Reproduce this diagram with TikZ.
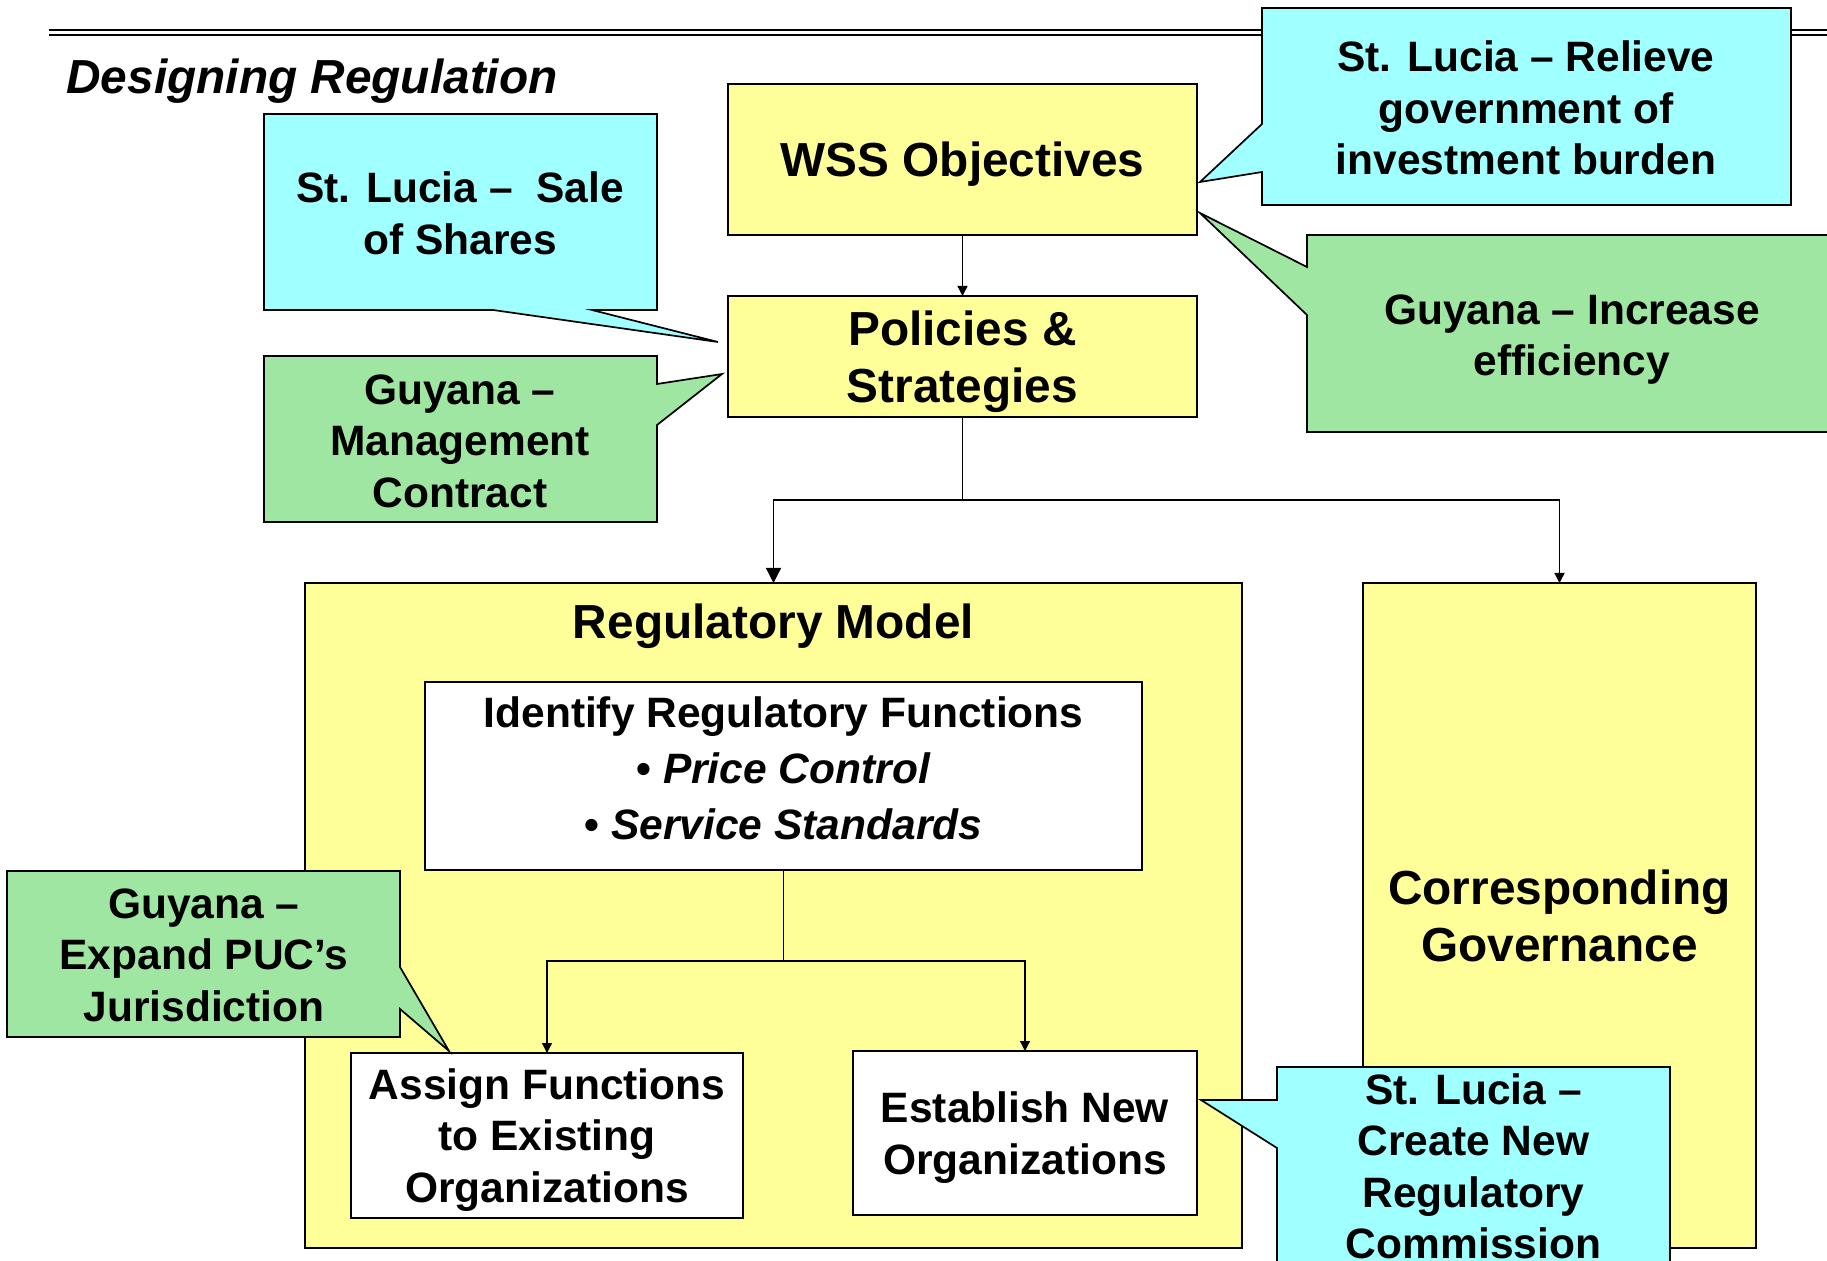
\documentclass[tikz,border=0pt]{standalone}
\usepackage{fontspec}
\setmainfont{Liberation Sans}
\usetikzlibrary{arrows.meta}
\definecolor{ylw}{RGB}{255,255,153}
\definecolor{cyn}{RGB}{160,255,255}
\definecolor{grn}{RGB}{160,230,163}
\newcommand\fbig{\fontsize{23.9pt}{28.5pt}\selectfont\bfseries}
\newcommand\fsml{\fontsize{21.25pt}{25.8pt}\selectfont\bfseries}
\newcommand\fidt{\fontsize{21.25pt}{28pt}\selectfont\bfseries}
\begin{document}
\begin{tikzpicture}[x=0.5pt,y=-0.5pt,
  bx/.style={draw=black,line width=0.85pt,inner sep=0pt,outer sep=0pt},
  ybox/.style={bx,fill=ylw},
  wbox/.style={bx,fill=white},
  co/.style={draw=black,line width=0.85pt,line join=miter},
  lbl/.style={align=center,inner sep=0pt,font=\fsml,text depth=0pt},
  blbl/.style={align=center,inner sep=0pt,font=\fbig,text depth=0pt},
  conn/.style={line width=0.65pt},
  arr/.style={conn,-{Triangle[length=5pt,width=5pt]}},
  arrb/.style={conn,-{Triangle[length=7.5pt,width=7.5pt]}},
]
\useasboundingbox (0,0) rectangle (1827,1261);
\clip (0,0) rectangle (1827,1261);
\fill[white] (0,0) rectangle (1827,1261);

% top rules
\draw[line width=1.1pt] (49,30) -- (1827,30);
\draw[line width=0.65pt] (49,35) -- (1827,35);

\node[anchor=base west,inner sep=0pt,font=\fbig\itshape] (title) at (66,94) {Designing Regulation};

% boxes
\node[ybox,blbl,minimum width=234.5pt,minimum height=75.5pt] (wss) at (962.5,159.5) {WSS Objectives};
\node[ybox,blbl,minimum width=234.5pt,minimum height=60.5pt] (pol) at (962.5,356.5) {Policies \&\\Strategies};
\node[ybox,minimum width=468.5pt,minimum height=332.5pt] (reg) at (773.5,915.5) {};
\node[ybox,blbl,minimum width=196.5pt,minimum height=332.5pt] (gov) at (1559.5,915.5) {Corresponding\\Governance};
\node[blbl] (regt) at (773.5,621) {Regulatory Model};
\node[wbox,minimum width=358.5pt,minimum height=94pt] (ident) at (783.5,776) {};
\node[lbl,font=\fidt] (identt) at (783.5,768) {Identify Regulatory Functions\\• \textit{Price Control}\\• \textit{Service Standards}};
\node[wbox,lbl,minimum width=196pt,minimum height=82.5pt] (assign) at (547,1135.5) {Assign Functions\\to Existing\\Organizations};
\node[wbox,lbl,minimum width=172pt,minimum height=82pt] (estab) at (1025,1133) {Establish New\\Organizations};

% connectors
\coordinate (b1) at (962.5,500);
\coordinate (b2) at (783.5,961);
\draw[arr] (wss.south) -- (pol.north);
\draw[conn] (pol.south) -- (b1);
\draw[arrb] (b1) -| (reg.north);
\draw[arr] (b1) -| (gov.north);
\draw[conn] (ident.south) -- (b2);
\draw[arr] (b2) -| (assign.north);
\draw[arr] (b2) -| (estab.north);

% callouts
\filldraw[co,fill=cyn] (1262,8) -- (1791,8) -- (1791,205) -- (1262,205) -- (1262,172) -- (1200,182) -- (1262,124) -- cycle;
\node[lbl] (c1) at (1526,108) {St. Lucia – Relieve\\government of\\investment burden};

\filldraw[co,fill=grn] (1307,235) -- (1845,235) -- (1845,432) -- (1307,432) -- (1307,315) -- (1200,213) -- (1307,267) -- cycle;
\node[lbl] (c2) at (1572,335) {Guyana – Increase\\efficiency};

\filldraw[co,fill=cyn] (264,114) -- (657,114) -- (657,310) -- (592,310) -- (718,342) -- (493,310) -- (264,310) -- cycle;
\node[lbl] (c3) at (460,213) {St. Lucia –\ \ Sale\\of Shares};

\filldraw[co,fill=grn] (264,356) -- (657,356) -- (657,384) -- (722,374) -- (657,425) -- (657,522) -- (264,522) -- cycle;
\node[lbl] (c4) at (460,441) {Guyana –\\Management\\Contract};

\filldraw[co,fill=grn] (7,871) -- (400,871) -- (400,967) -- (449,1051) -- (400,1009) -- (400,1037) -- (7,1037) -- cycle;
\node[lbl] (c5) at (204,955) {Guyana –\\Expand PUC’s\\Jurisdiction};

\filldraw[co,fill=cyn] (1277,1067) -- (1670,1067) -- (1670,1290) -- (1277,1290) -- (1277,1148) -- (1201,1100) -- (1277,1100) -- cycle;
\node[lbl,anchor=north] (c6) at (1473.5,1073) {St. Lucia –\\Create New\\Regulatory\\Commission};
\end{tikzpicture}
\end{document}
